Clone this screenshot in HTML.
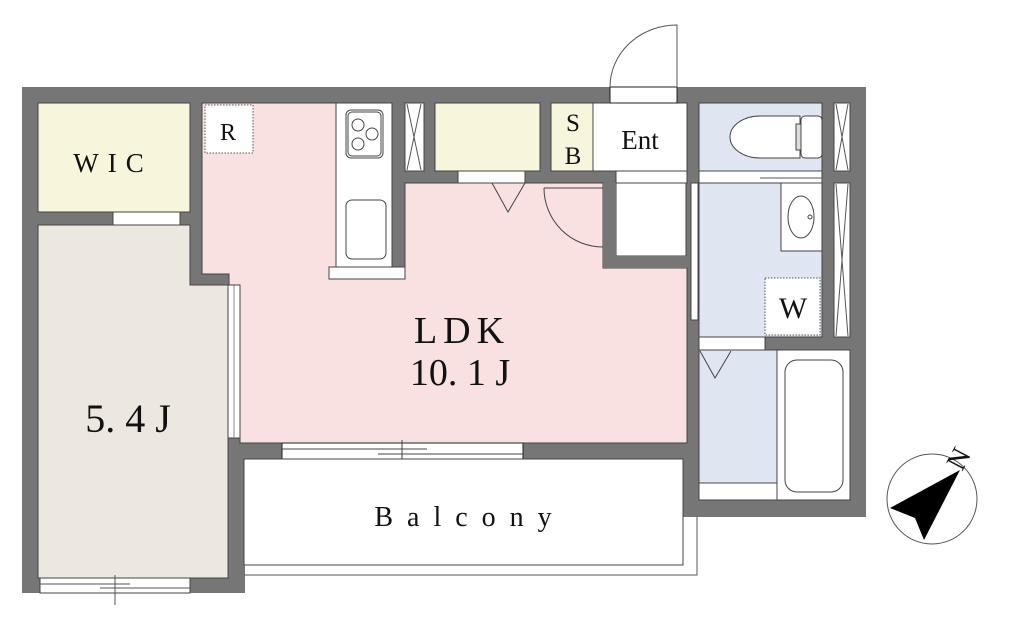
<!DOCTYPE html>
<html><head><meta charset="utf-8"><style>html,body{margin:0;padding:0;background:#fff}svg{display:block}</style></head><body>
<svg width="1024" height="625" viewBox="0 0 1024 625" xmlns="http://www.w3.org/2000/svg" font-family="'Liberation Serif', 'DejaVu Serif', serif">
<!-- walls -->
<rect x="22" y="87" width="223" height="506" fill="#767676"/>
<rect x="200" y="87" width="666" height="16" fill="#767676"/>
<rect x="230" y="87" width="468" height="372" fill="#767676"/>
<rect x="683" y="87" width="183" height="430" fill="#767676"/>
<rect x="22" y="87" width="844" height="16" fill="#767676"/>
<!-- WIC -->
<rect x="38" y="103" width="152" height="109" fill="#f7f5dc" stroke="#444" stroke-width="1"/>
<rect x="113" y="212" width="67" height="13" fill="#fff" stroke="#444" stroke-width="1"/>
<polyline points="146,225 162,253 179,225" fill="none" stroke="#444"/>
<!-- 5.4J -->
<polygon points="38,225 190,225 190,285 228,285 228,578 38,578" fill="#ede8df" stroke="#444" stroke-width="1"/>
<rect x="228" y="285" width="12" height="153" fill="#fff" stroke="#444" stroke-width="1"/>
<line x1="234" y1="285" x2="234" y2="438" stroke="#888"/>
<rect x="40" y="578" width="150" height="15" fill="#fff" stroke="#444" stroke-width="1"/>
<line x1="40" y1="584" x2="130" y2="584" stroke="#555"/><line x1="100" y1="588" x2="190" y2="588" stroke="#555"/><line x1="115" y1="575" x2="115" y2="605" stroke="#555"/>
<!-- LDK -->
<polygon points="202,103 336,103 336,267 329,267 329,279 405,279 405,183 603,183 603,268 687,268 687,443 240,443 240,285 229,285 229,274 202,274" fill="#f9e1e1" stroke="#444" stroke-width="1"/>
<rect x="336" y="103" width="56" height="164" fill="#fff" stroke="#444"/>
<rect x="329" y="267" width="76" height="12" fill="#fff" stroke="#444"/>
<rect x="346" y="110" width="37" height="48" rx="5" fill="none" stroke="#444"/>
<rect x="348" y="112" width="33" height="44" rx="4" fill="none" stroke="#444"/>
<circle cx="358" cy="125" r="6" fill="none" stroke="#444"/><circle cx="372" cy="134" r="6" fill="none" stroke="#444"/><circle cx="358" cy="144" r="6" fill="none" stroke="#444"/>
<rect x="346" y="200" width="40" height="59" rx="6" fill="none" stroke="#444"/>
<rect x="205" y="105" width="48" height="48" fill="#fff" stroke="#555" stroke-dasharray="1.5,1.5"/>
<!-- closets -->
<rect x="405" y="103" width="19" height="68" fill="#fff" stroke="#444"/>
<polyline points="407,104 421,170" stroke="#555" fill="none"/><polyline points="421,104 407,170" stroke="#555" fill="none"/>
<rect x="435" y="103" width="105" height="68" fill="#f7f5dc" stroke="#444"/>
<rect x="458" y="171" width="67" height="12" fill="#fff" stroke="#444"/>
<polyline points="492,183 508,212 525,183" fill="none" stroke="#444"/>
<rect x="551" y="103" width="42" height="68" fill="#f7f5dc" stroke="#444"/>
<rect x="593" y="103" width="94" height="68" fill="#fff" stroke="#444"/>
<rect x="616" y="171" width="71" height="12" fill="#fff" stroke="#444"/>
<rect x="616" y="183" width="70" height="73" fill="#fff" stroke="#444"/>
<rect x="603" y="183" width="13" height="85" fill="#767676"/>
<rect x="603" y="256" width="84" height="12" fill="#767676"/>
<path d="M544,188 L603,188 M544,188 A59,59 0 0 0 603,247" fill="none" stroke="#444"/>
<!-- entrance door -->
<rect x="610" y="87" width="67" height="16" fill="#fff" stroke="#222"/>
<path d="M677,87 L677,25 A67,62 0 0 0 610,87" fill="none" stroke="#555"/>
<!-- right side -->
<rect x="699" y="103" width="123" height="68" fill="#dfe6f1" stroke="#444"/>
<rect x="699" y="171" width="123" height="12" fill="#fff" stroke="#444"/>
<line x1="760" y1="178" x2="822" y2="178" stroke="#555"/>
<path d="M800,116 L760,116 A30,21 0 0 0 760,158 L800,158 Z" fill="#fff" stroke="#444"/>
<rect x="796" y="124" width="5" height="26" fill="#ddd" stroke="#444"/>
<rect x="801" y="116" width="21" height="42" rx="4" fill="#fff" stroke="#444"/>
<rect x="834" y="103" width="16" height="68" fill="#fff" stroke="#444"/>
<polyline points="836,104 848,170" stroke="#555" fill="none"/><polyline points="848,104 836,170" stroke="#555" fill="none"/>
<rect x="699" y="183" width="123" height="154" fill="#dfe6f1" stroke="#444"/>
<rect x="781" y="183" width="41" height="68" fill="#fff" stroke="#444"/>
<ellipse cx="801" cy="217" rx="13" ry="21" fill="#fff" stroke="#444"/>
<circle cx="810" cy="217" r="2" fill="none" stroke="#444"/>
<rect x="765" y="278" width="55" height="57" fill="#fff" stroke="#555" stroke-dasharray="1.5,1.5"/>
<rect x="834" y="183" width="16" height="154" fill="#fff" stroke="#444"/>
<polyline points="836,184 848,336" stroke="#555" fill="none"/><polyline points="848,184 836,336" stroke="#555" fill="none"/>
<rect x="691" y="183" width="7" height="137" fill="#fff" stroke="#444"/>
<rect x="699" y="337" width="66" height="13" fill="#fff" stroke="#444"/>
<rect x="699" y="350" width="78" height="133" fill="#dfe6f1" stroke="#444"/>
<polyline points="700,351 715,378 731,351" fill="none" stroke="#444"/>
<rect x="699" y="483" width="78" height="17" fill="#fff" stroke="#444"/>
<rect x="777" y="350" width="73" height="150" fill="#fff" stroke="#444"/>
<rect x="785" y="360" width="58" height="132" rx="12" fill="none" stroke="#444"/>
<!-- balcony -->
<rect x="282" y="443" width="241" height="16" fill="#fff" stroke="#222"/>
<line x1="282" y1="449" x2="427" y2="449" stroke="#444"/><line x1="378" y1="454" x2="523" y2="454" stroke="#444"/><line x1="402" y1="440" x2="402" y2="463" stroke="#444"/>
<rect x="244" y="459" width="439" height="106" fill="#fff" stroke="#444"/>
<polyline points="244,575 697,575 697,517" fill="none" stroke="#555"/>
<!-- texts -->
<g fill="#111">
<text x="113" y="172" font-size="27" text-anchor="middle" letter-spacing="9">WIC</text>
<text x="228" y="140" font-size="24" text-anchor="middle">R</text>
<text x="128" y="432" font-size="40" text-anchor="middle">5. 4 J</text>
<text x="462" y="343" font-size="38" text-anchor="middle" letter-spacing="6">LDK</text>
<text x="460" y="385" font-size="38" text-anchor="middle">10. 1 J</text>
<text x="640" y="149" font-size="27" text-anchor="middle">Ent</text>
<text x="573" y="131" font-size="25" text-anchor="middle">S</text>
<text x="573" y="164" font-size="25" text-anchor="middle">B</text>
<text x="793" y="318" font-size="30" text-anchor="middle">W</text>
<text x="470" y="526" font-size="28" text-anchor="middle" letter-spacing="14">Balcony</text>
</g>
<!-- compass -->
<circle cx="932" cy="499" r="45" fill="#fff" stroke="#555"/>
<polygon points="960,470 890,508 915,518 924,540" fill="#000"/>
<text x="0" y="0" font-size="28" fill="#111" transform="translate(962,472) rotate(-62)">N</text>
</svg>
</body></html>
